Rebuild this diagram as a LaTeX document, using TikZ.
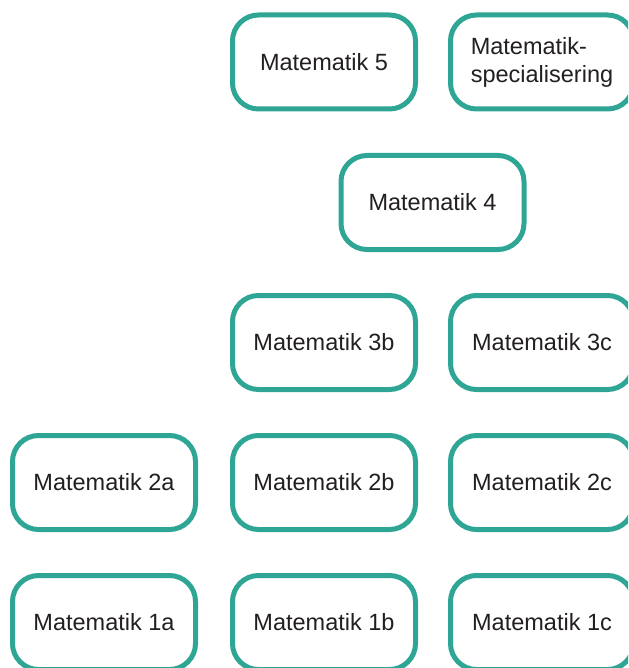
\documentclass[tikz,border=0pt]{standalone}
\usepackage{fontspec}
\setmainfont{Liberation Sans}
\definecolor{teal1}{RGB}{47,166,149}
\definecolor{ink}{RGB}{35,31,32}
\begin{document}
\begin{tikzpicture}[x=1pt,y=-1pt,
  course/.style={draw=teal1, line width=5pt, rounded corners=26pt, fill=white,
    minimum width=183pt, minimum height=94pt, inner sep=0pt,
    font=\fontsize{23.5}{28}\selectfont, text=ink, align=center}]
\useasboundingbox (0,0) rectangle (628,668);
\clip (0,0) rectangle (628,668);
\node[course] (m5) at (324,62) {Matematik 5};
\node[course, align=left] (ms) at (542,62) {Matematik-\\specialisering};
\node[course] (m4) at (432.5,202.5) {Matematik 4};
\node[course] (m3b) at (324,342.5) {Matematik 3b};
\node[course] (m3c) at (542,342.5) {Matematik 3c};
\node[course] (m2a) at (104,482.5) {Matematik 2a};
\node[course] (m2b) at (324,482.5) {Matematik 2b};
\node[course] (m2c) at (542,482.5) {Matematik 2c};
\node[course] (m1a) at (104,622.5) {Matematik 1a};
\node[course] (m1b) at (324,622.5) {Matematik 1b};
\node[course] (m1c) at (542,622.5) {Matematik 1c};
\end{tikzpicture}
\end{document}
